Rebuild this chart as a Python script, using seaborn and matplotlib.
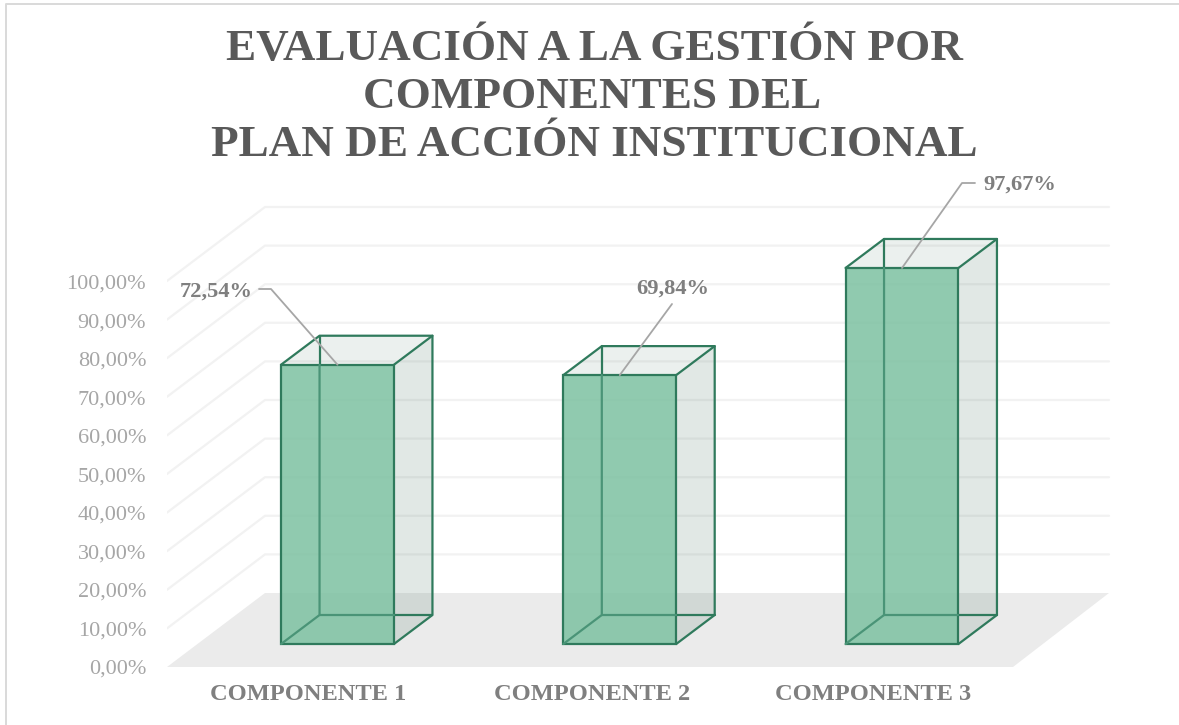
import seaborn as sns
import matplotlib.pyplot as plt
from matplotlib.lines import Line2D
from matplotlib.patches import Polygon

# values
componentes = ["COMPONENTE 1", "COMPONENTE 2", "COMPONENTE 3"]
valores = [72.54, 69.84, 97.67]
etiquetas = ["72,54%", "69,84%", "97,67%"]
ticks = [0, 10, 20, 30, 40, 50, 60, 70, 80, 90, 100]
tick_labels = ["0,00%", "10,00%", "20,00%", "30,00%", "40,00%", "50,00%",
               "60,00%", "70,00%", "80,00%", "90,00%", "100,00%"]
titulo = ["EVALUACIÓN A LA GESTIÓN POR", "COMPONENTES DEL", "PLAN DE ACCIÓN INSTITUCIONAL"]

W, H = 1179, 725
SLOT = 282.25   # px between categories
UNIT = 3.85     # px per percent point
X0, Y0 = 337.5, 644  # px of first bar centre / bar base


def px_x(p):
    return (p - X0) / SLOT


def px_y(p):
    return (Y0 - p) / UNIT


GREEN = "#2F7A5C"
INNER = "#4A9477"
SERIF = "Liberation Serif"
EDGE = 1.6

sns.set_theme(style="white", rc={"font.family": SERIF})

fig = plt.figure(figsize=(W / 100, H / 100), dpi=100)
ax = fig.add_axes([167 / W, (H - 667) / H, (W - 167) / W, 667 / H])

sns.barplot(x=componentes, y=valores, color="#7DC1A1", saturation=1, width=0.4,
            edgecolor=GREEN, linewidth=EDGE, zorder=5, ax=ax)
for bar in ax.patches:
    bar.set_facecolor((125 / 255, 193 / 255, 161 / 255, 0.85))

ax.set_xlim(px_x(167), px_x(W))
ax.set_ylim(px_y(667), px_y(0))

# floor
fl_back = px_y(593)
fl_front = px_y(667)
ax.add_patch(Polygon([(px_x(167), fl_front), (px_x(1013), fl_front),
                      (px_x(1109), fl_back), (px_x(265), fl_back)],
                     facecolor="#EBEBEB", edgecolor="none", zorder=0))

# walls
for t in ticks:
    wall = fl_back + t * 3.86 / UNIT
    side = fl_front + t * 3.86 / UNIT
    if t > 0:
        ax.plot([px_x(167), px_x(265), px_x(1109)], [side, wall, wall],
                color="#F2F2F2", lw=1.6, zorder=1, solid_joinstyle="miter")

# 3D faces hung on the bars the library drew
dx = 38.5 / SLOT
dy = 29 / UNIT
for bar in ax.patches[:3]:
    x1 = bar.get_x()
    x2 = x1 + bar.get_width()
    top = bar.get_height()
    ax.add_patch(Polygon([(x2, 0), (x2 + dx, dy), (x2 + dx, top + dy), (x2, top)],
                         facecolor=(105 / 255, 140 / 255, 125 / 255, 0.2),
                         edgecolor="none", zorder=2))
    ax.add_patch(Polygon([(x1, top), (x1 + dx, top + dy), (x2 + dx, top + dy), (x2, top)],
                         facecolor=(105 / 255, 140 / 255, 125 / 255, 0.13),
                         edgecolor="none", zorder=2))
    # outer edges
    ax.plot([x2, x2 + dx, x2 + dx, x1 + dx, x1], [0, dy, top + dy, top + dy, top],
            color=GREEN, lw=EDGE, zorder=3)
    ax.plot([x1 + dx, x1 + dx], [top, top + dy], color=GREEN, lw=EDGE, zorder=3)
    ax.plot([x2 + dx, x2], [top + dy, top], color=GREEN, lw=EDGE, zorder=6)
    ax.plot([x2, x2 + dx], [dy, dy], color=GREEN, lw=EDGE, zorder=3)
    # edges seen through the front face
    ax.plot([x1, x1 + dx, x1 + dx], [0, dy, top], color=INNER, lw=EDGE, zorder=6)
    ax.plot([x1 + dx, x2], [dy, dy], color=INNER, lw=EDGE, zorder=6)

# leader lines and data labels
leaders = [[(259, 289), (271, 289)], [(672, 304)], [(975, 183), (962, 183)]]
label_pos = [(216, 291.5), (672.5, 288.5), (1020, 185)]
for i, v in enumerate(valores):
    xs = [px_x(p[0]) for p in leaders[i]] + [i]
    ys = [px_y(p[1]) for p in leaders[i]] + [v]
    ax.plot(xs, ys, color="#A6A6A6", lw=1.3, zorder=7)
    ax.text(px_x(label_pos[i][0]), px_y(label_pos[i][1]), etiquetas[i], ha="center", va="center",
            fontsize=16.2, fontweight="bold", color="#7F7F7F", family=SERIF, zorder=8)

# axis labels sit on the front edge of the side wall
ax.set_yticks([fl_front + t * 3.85 / UNIT for t in ticks], tick_labels)
ax.tick_params(axis="y", length=0, pad=15, labelsize=16, labelcolor="#A6A6A6")
ax.set_xticks([px_x(308.5), px_x(592), px_x(873.5)], componentes)
ax.tick_params(axis="x", length=0, pad=12.5, labelsize=17.6, labelcolor="#7F7F7F")
for lab in ax.get_xticklabels():
    lab.set_fontweight("bold")
ax.set(xlabel=None, ylabel=None)
sns.despine(ax=ax, left=True, bottom=True)

# title
for linea, x, y in zip(titulo, [594.5, 592.5, 594.5], [60, 108, 156]):
    fig.text(x / W, (H - y) / H, linea, ha="center", va="baseline",
             fontsize=32.5, fontweight="bold", color="#595959", family=SERIF)

# chart frame
fig.add_artist(Line2D([6 / W, 6 / W, 1], [0, (H - 4) / H, (H - 4) / H], color="#D9D9D9", lw=1.4))

fig.savefig("out.png", dpi=100)
